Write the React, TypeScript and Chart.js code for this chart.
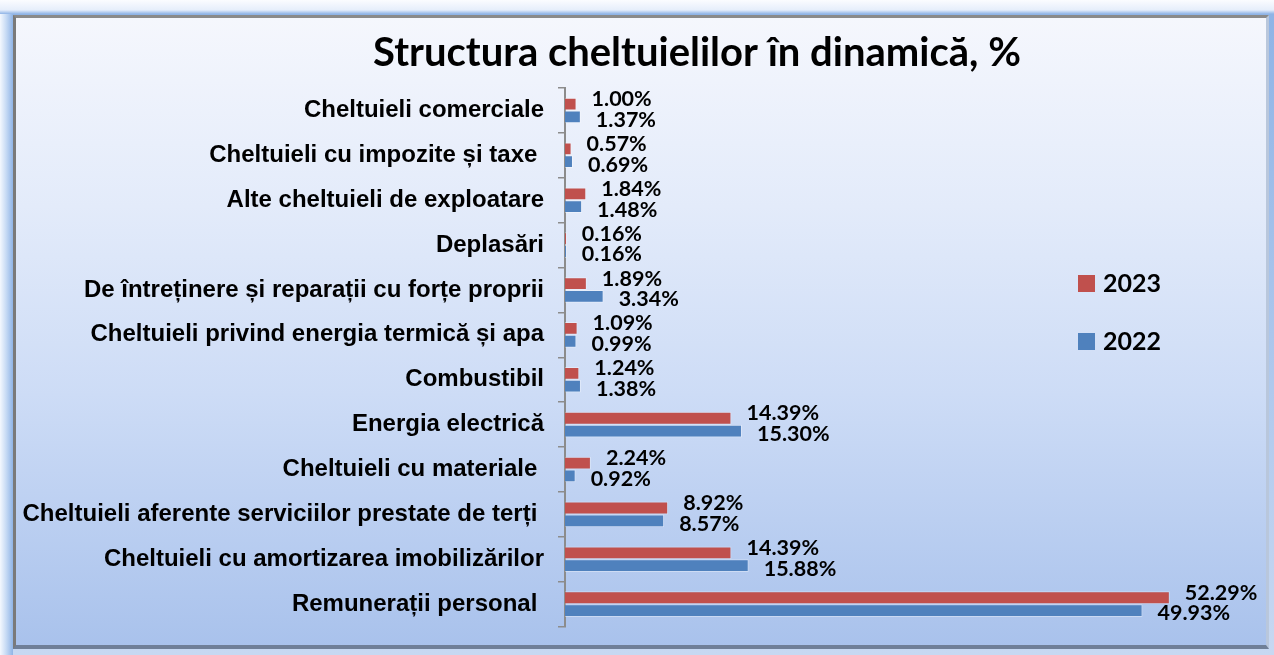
import React, { useEffect, useRef } from 'react';
import { Chart, registerables } from 'chart.js';

Chart.register(...registerables);

const titleText = 'Structura cheltuielilor în dinamică, %';

const categories = [
  'Cheltuieli comerciale',
  'Cheltuieli cu impozite și taxe ',
  'Alte cheltuieli de exploatare',
  'Deplasări',
  'De întreținere și reparații cu forțe proprii',
  'Cheltuieli privind energia termică și apa',
  'Combustibil',
  'Energia electrică',
  'Cheltuieli cu materiale ',
  'Cheltuieli aferente serviciilor prestate de terți ',
  'Cheltuieli cu amortizarea imobilizărilor',
  'Remunerații personal ',
];

const values2023 = [1.0, 0.57, 1.84, 0.16, 1.89, 1.09, 1.24, 14.39, 2.24, 8.92, 14.39, 52.29];
const values2022 = [1.37, 0.69, 1.48, 0.16, 3.34, 0.99, 1.38, 15.3, 0.92, 8.57, 15.88, 49.93];

const seriesLabels = ['2023', '2022'];
const seriesColors = ['#c0504d', '#4f81bd'];

const titlePlugin = {
  id: 'customTitle',
  afterDraw(chart: any) {
    const ctx = chart.ctx;
    ctx.save();
    ctx.font = 'bold 40px Lato, "Open Sans", sans-serif';
    ctx.fillStyle = '#000';
    ctx.textAlign = 'center';
    ctx.textBaseline = 'alphabetic';
    ctx.fillText(titleText, 697, 66);
    ctx.restore();
  },
};

const legendPlugin = {
  id: 'customLegend',
  afterDraw(chart: any) {
    const ctx = chart.ctx;
    ctx.save();
    ctx.font = 'bold 25px Lato, "Open Sans", sans-serif';
    ctx.textAlign = 'left';
    ctx.textBaseline = 'middle';
    chart.data.datasets.forEach((ds: any, i: number) => {
      const cy = 283 + i * 58;
      ctx.fillStyle = ds.backgroundColor;
      ctx.fillRect(1078, cy - 8, 17, 17);
      ctx.fillStyle = '#000';
      ctx.fillText(ds.label, 1103, cy + 1);
    });
    ctx.restore();
  },
};

const valueLabelPlugin = {
  id: 'valueLabels',
  afterDatasetsDraw(chart: any) {
    const ctx = chart.ctx;
    ctx.save();
    ctx.font = 'bold 21.5px Lato, "Open Sans", sans-serif';
    ctx.fillStyle = '#000';
    ctx.textAlign = 'left';
    ctx.textBaseline = 'middle';
    chart.data.datasets.forEach((ds: any, di: number) => {
      const meta = chart.getDatasetMeta(di);
      meta.data.forEach((bar: any, i: number) => {
        const v = ds.data[i] as number;
        const dy = di === 0 ? -5 : 3;
        ctx.fillText(v.toFixed(2) + '%', bar.x + 15, bar.y + dy);
      });
    });
    ctx.restore();
  },
};

export default function App() {
  const canvasRef = useRef<HTMLCanvasElement | null>(null);

  useEffect(() => {
    if (!canvasRef.current) return;
    const chart = new Chart(canvasRef.current, {
      type: 'bar',
      data: {
        labels: categories,
        datasets: [
          {
            label: seriesLabels[0],
            data: values2023,
            backgroundColor: seriesColors[0],
            borderColor: 'rgba(255,255,255,0.35)',
            borderWidth: 1,
            categoryPercentage: 0.57,
            barPercentage: 1.0,
          },
          {
            label: seriesLabels[1],
            data: values2022,
            backgroundColor: seriesColors[1],
            borderColor: 'rgba(255,255,255,0.35)',
            borderWidth: 1,
            categoryPercentage: 0.57,
            barPercentage: 1.0,
          },
        ],
      },
      options: {
        indexAxis: 'y',
        animation: false,
        responsive: false,
        maintainAspectRatio: false,
        layout: { padding: { top: 88, bottom: 27, left: 0, right: 15 } },
        plugins: {
          legend: { display: false },
          title: { display: false },
          tooltip: { enabled: false },
        },
        scales: {
          x: {
            display: false,
            min: 0,
            max: 60,
          },
          y: {
            grid: {
              display: true,
              drawOnChartArea: false,
              drawTicks: true,
              tickLength: 7,
              color: '#8c8c8c',
              lineWidth: 1.5,
              offset: true,
            },
            border: { display: true, color: '#8c8c8c', width: 2 },
            ticks: {
              color: '#000',
              autoSkip: false,
              padding: 14,
              font: { family: '"Liberation Sans", Arial, sans-serif', weight: 'bold', size: 24 },
            },
            afterFit: (s: any) => {
              s.width = 565;
            },
          },
        },
      },
      plugins: [titlePlugin, legendPlugin, valueLabelPlugin],
    } as any);
    return () => chart.destroy();
  }, []);

  return (
    <div
      style={{
        position: 'fixed',
        left: 0,
        top: 0,
        width: 1274,
        height: 655,
        overflow: 'hidden',
        background: 'linear-gradient(to bottom, #fbfcff 0px, #e6eefb 10px, #8fb4e6 14px, #c7d8f2 100%)',
      }}
    >
      <div
        style={{
          position: 'absolute',
          left: 0,
          top: 14,
          width: 13,
          height: 641,
          background: 'linear-gradient(to right, #f4f8fe 0%, #c9dcf5 45%, #8fb4e6 100%)',
        }}
      />
      <div
        style={{
          position: 'absolute',
          left: 13,
          top: 15,
          width: 1256,
          height: 634,
          boxSizing: 'border-box',
          borderLeft: '3px solid #7a7a7a',
          borderTop: '3px solid #8a8a8a',
          borderRight: '3px solid #b9c7dc',
          borderBottom: '4px solid #6f7f98',
          background: 'linear-gradient(to bottom, #f5f7fd 0%, #e3ebfa 30%, #cddcf6 60%, #a9c2ec 100%)',
        }}
      />
      <canvas
        ref={canvasRef}
        width={1274}
        height={655}
        style={{ position: 'absolute', left: 0, top: 0, display: 'block' }}
      />
    </div>
  );
}
